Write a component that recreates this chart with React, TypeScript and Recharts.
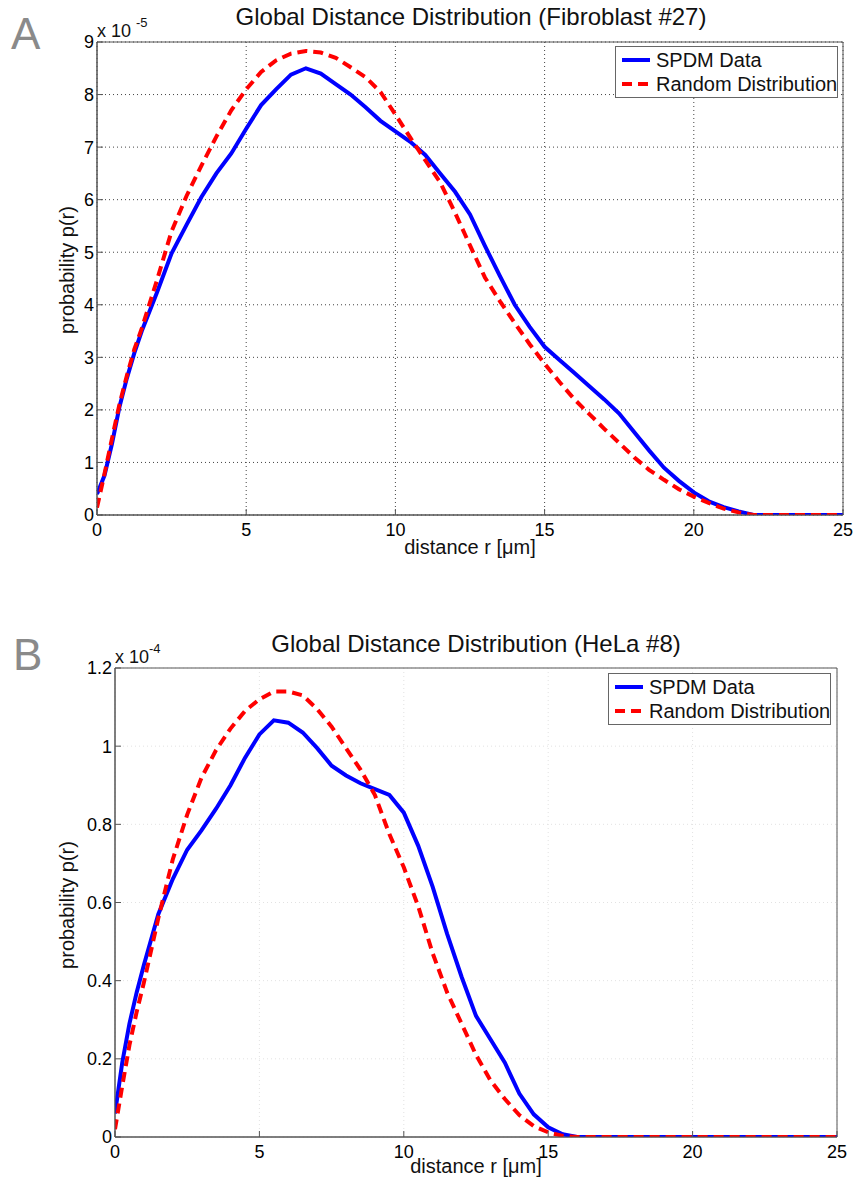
import React from 'react';
import { LineChart, Line, XAxis, YAxis, CartesianGrid, Legend, ReferenceArea } from 'recharts';

// Panel A: Fibroblast #27 (values in units of 1e-5)
const rA = [0, 0.25, 0.5, 0.75, 1, 1.25, 1.5, 2, 2.5, 3, 3.5, 4, 4.5, 5, 5.5, 6, 6.5, 7, 7.5, 8, 8.5, 9, 9.5, 10, 10.5, 11, 11.5, 12, 12.5, 13, 13.5, 14, 14.5, 15, 15.5, 16, 16.5, 17, 17.5, 18, 18.5, 19, 19.5, 20, 20.5, 21, 21.5, 22, 23, 24, 25];
const spdmA = [0.4, 0.75, 1.35, 2.05, 2.6, 3.08, 3.5, 4.22, 4.98, 5.52, 6.05, 6.5, 6.88, 7.35, 7.8, 8.1, 8.38, 8.5, 8.4, 8.2, 8.0, 7.76, 7.5, 7.3, 7.1, 6.85, 6.5, 6.15, 5.72, 5.12, 4.55, 4.0, 3.58, 3.2, 2.95, 2.7, 2.45, 2.2, 1.93, 1.58, 1.23, 0.9, 0.65, 0.43, 0.26, 0.15, 0.07, 0, 0, 0, 0];
const randomA = [0.14, 0.78, 1.45, 2.1, 2.65, 3.15, 3.55, 4.45, 5.4, 6.07, 6.65, 7.2, 7.7, 8.1, 8.43, 8.65, 8.78, 8.83, 8.8, 8.7, 8.52, 8.33, 8.05, 7.62, 7.18, 6.75, 6.33, 5.75, 5.13, 4.52, 4.07, 3.65, 3.25, 2.88, 2.53, 2.2, 1.92, 1.64, 1.37, 1.1, 0.86, 0.67, 0.49, 0.35, 0.23, 0.12, 0.05, 0, 0, 0, 0];
const yTicksA = [0, 1, 2, 3, 4, 5, 6, 7, 8, 9];

// Panel B: HeLa #8 (values in units of 1e-4)
const rB = [0, 0.25, 0.5, 0.75, 1, 1.5, 2, 2.5, 3, 3.5, 4, 4.5, 5, 5.5, 6, 6.5, 7, 7.5, 8, 8.5, 9, 9.5, 10, 10.5, 11, 11.5, 12, 12.5, 13, 13.5, 14, 14.5, 15, 15.5, 16, 17, 18, 19, 20, 21, 22, 23, 24, 25];
const spdmB = [0.06, 0.19, 0.29, 0.37, 0.44, 0.57, 0.66, 0.735, 0.785, 0.84, 0.9, 0.97, 1.03, 1.066, 1.06, 1.035, 0.995, 0.95, 0.925, 0.905, 0.89, 0.875, 0.83, 0.745, 0.64, 0.52, 0.41, 0.31, 0.25, 0.19, 0.111, 0.058, 0.025, 0.007, 0, 0, 0, 0, 0, 0, 0, 0, 0, 0];
const randomB = [0.02, 0.13, 0.235, 0.32, 0.395, 0.56, 0.71, 0.825, 0.92, 0.99, 1.045, 1.09, 1.12, 1.14, 1.14, 1.13, 1.095, 1.05, 0.995, 0.94, 0.875, 0.775, 0.69, 0.59, 0.47, 0.37, 0.29, 0.21, 0.145, 0.097, 0.056, 0.028, 0.012, 0.003, 0, 0, 0, 0, 0, 0, 0, 0, 0, 0];
const yTicksB = [0, 0.2, 0.4, 0.6, 0.8, 1, 1.2];

const xTicks = [0, 5, 10, 15, 20, 25];
const seriesNames = ['SPDM Data', 'Random Distribution'];

const FONT = '"Liberation Sans", Arial, Helvetica, sans-serif';
const AXIS = '#555';

const LegendBox = () => (
  <div style={{ width: 221, height: 49, border: '1px solid #666', background: '#fff', fontFamily: FONT, fontSize: 20, color: '#111', paddingTop: 1, whiteSpace: 'nowrap' }}>
    {seriesNames.map((name, i) => (
      <div key={name} style={{ height: 24, display: 'flex', alignItems: 'center' }}>
        <svg width={40} height={8} style={{ flex: 'none' }}>
          <line x1={6} x2={34} y1={4} y2={4} stroke={i === 0 ? '#0000ff' : '#ff0000'} strokeWidth={4} strokeDasharray={i === 0 ? undefined : '10 6'} />
        </svg>
        <span style={{ lineHeight: '24px' }}>{name}</span>
      </div>
    ))}
  </div>
);

type PanelProps = {
  top: number;
  r: number[];
  spdm: number[];
  random: number[];
  yTicks: number[];
  margin: { top: number; right: number; bottom: number; left: number };
  gridColor: string;
  legendPos: { top: number; left: number };
};

const Panel = ({ top, r, spdm, random, yTicks, margin, gridColor, legendPos }: PanelProps) => {
  const data = r.map((x, i) => ({ r: x, spdm: spdm[i], random: random[i] }));
  const yMax = yTicks[yTicks.length - 1];
  const tick = { fill: '#000', fontSize: 18, fontFamily: FONT };
  return (
    <div style={{ position: 'absolute', left: 0, top }}>
      <LineChart width={858} height={560} data={data} margin={margin}>
        <CartesianGrid stroke={gridColor} strokeDasharray="1 3" />
        <XAxis dataKey="r" type="number" domain={[0, 25]} ticks={xTicks} allowDataOverflow interval={0}
          height={30} stroke={AXIS} tick={tick} tickSize={-6} tickMargin={14} />
        <XAxis xAxisId="top" orientation="top" type="number" domain={[0, 25]} ticks={xTicks} interval={0}
          height={0} stroke={AXIS} tickSize={-6} tickFormatter={() => ''} />
        <YAxis type="number" domain={[0, yMax]} ticks={yTicks} allowDataOverflow interval={0}
          width={40} stroke={AXIS} tick={tick} tickSize={-6} tickMargin={9} />
        <YAxis yAxisId="right" orientation="right" type="number" domain={[0, yMax]} ticks={yTicks} interval={0}
          width={0} stroke={AXIS} tickSize={-6} tickFormatter={() => ''} />
        <ReferenceArea x1={0} x2={25} y1={0} y2={yMax} fill="none" stroke={AXIS} strokeWidth={1} />
        <Line type="linear" dataKey="spdm" name={seriesNames[0]} stroke="#0000ff" strokeWidth={4} dot={false} isAnimationActive={false} />
        <Line type="linear" dataKey="random" name={seriesNames[1]} stroke="#ff0000" strokeWidth={4} strokeDasharray="10 6" dot={false} isAnimationActive={false} />
        <Legend layout="horizontal" verticalAlign="middle" align="center" content={() => <LegendBox />}
          wrapperStyle={{ top: legendPos.top, left: legendPos.left, width: 'auto' }} />
      </LineChart>
    </div>
  );
};

export default function App() {
  return (
    <div style={{ position: 'absolute', left: 0, top: 0, width: 858, height: 1186, background: '#fff' }}>
      <Panel top={0} r={rA} spdm={spdmA} random={randomA} yTicks={yTicksA}
        margin={{ top: 42, right: 15, bottom: 15, left: 57 }} gridColor="#444" legendPos={{ top: 46, left: 615 }} />
      <Panel top={620} r={rB} spdm={spdmB} random={randomB} yTicks={yTicksB}
        margin={{ top: 48, right: 21, bottom: 13, left: 75 }} gridColor="#e2e2e2" legendPos={{ top: 53, left: 608 }} />
      <svg width={858} height={1186} style={{ position: 'absolute', left: 0, top: 0, pointerEvents: 'none' }} fontFamily={FONT}>
        <text x={11} y={49} fontSize={44} fill="#8a8a8a">A</text>
        <text x={471} y={25} fontSize={24} textAnchor="middle" fill="#111">Global Distance Distribution (Fibroblast #27)</text>
        <text x={97} y={37} fontSize={18} fill="#111">x 10</text>
        <text x={136} y={27} fontSize={13} fill="#111">-5</text>
        <text x={470} y={554} fontSize={20} textAnchor="middle" fill="#111">distance r [μm]</text>
        <text transform="translate(74,270) rotate(-90)" fontSize={20} textAnchor="middle" fill="#111">probability p(r)</text>

        <text x={13} y={670} fontSize={44} fill="#8a8a8a">B</text>
        <text x={476} y={652} fontSize={24} textAnchor="middle" fill="#111">Global Distance Distribution (HeLa #8)</text>
        <text x={115} y={663} fontSize={18} fill="#111">x 10</text>
        <text x={149} y={653} fontSize={13} fill="#111">-4</text>
        <text x={476} y={1173} fontSize={20} textAnchor="middle" fill="#111">distance r [μm]</text>
        <text transform="translate(74,905) rotate(-90)" fontSize={20} textAnchor="middle" fill="#111">probability p(r)</text>
      </svg>
    </div>
  );
}
